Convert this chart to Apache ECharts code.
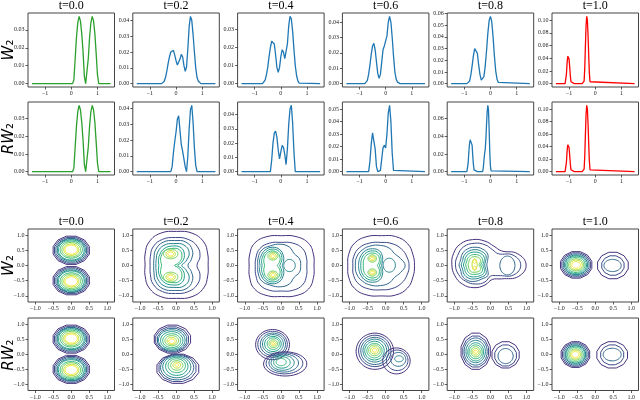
<!doctype html>
<html>
<head>
<meta charset="UTF-8">
<title></title>
<script src="https://cdn.jsdelivr.net/npm/echarts@6.0.0/dist/echarts.min.js"></script>
<style>
html,body{margin:0;padding:0;background:#fff;}
#chart{width:640px;height:400px;}
</style>
</head>
<body>
<div id="chart"></div>
<script>
// column titles and row names
var times = ['t=0.0', 't=0.2', 't=0.4', 't=0.6', 't=0.8', 't=1.0'];
var rowNames = ['W', 'RW', 'W', 'RW'];

// 1D densities: first x, step, values (zero elsewhere on [-1.5, 1.5])
var curveT0 = {x0: 0.05, dx: 0.05, y: [0, 0.002, 0.014, 0.026, 0.034, 0.0375, 0.035, 0.028, 0.018, 0.004, 0, 0.001, 0.014, 0.026, 0.034, 0.0375, 0.035, 0.028, 0.017, 0.005, 0]};
var curveW2 = {x0: -0.55, dx: 0.05, y: [0, 0.0005, 0.0015, 0.004, 0.008, 0.013, 0.017, 0.020, 0.0212, 0.021, 0.018, 0.0145, 0.0118, 0.0115, 0.0155, 0.0185, 0.017, 0.0115, 0.0078, 0.0105, 0.022, 0.036, 0.0425, 0.040, 0.031, 0.020, 0.010, 0.004, 0.0015, 0.0005, 0]};
var curveW4 = {x0: -0.7, dx: 0.05, y: [0, 0.0005, 0.002, 0.005, 0.009, 0.015, 0.020, 0.0235, 0.0244, 0.022, 0.016, 0.009, 0.0062, 0.009, 0.015, 0.0188, 0.0175, 0.0138, 0.0135, 0.022, 0.032, 0.0373, 0.036, 0.029, 0.019, 0.010, 0.0045, 0.0015, 0.0003, 0]};
var curveW6 = {x0: -0.8, dx: 0.05, y: [0, 0.0005, 0.002, 0.006, 0.012, 0.019, 0.0245, 0.0262, 0.022, 0.014, 0.0065, 0.0035, 0.006, 0.014, 0.022, 0.0245, 0.025, 0.031, 0.040, 0.0437, 0.040, 0.030, 0.018, 0.008, 0.003, 0.001, 0.0002, 0]};
var curveW8 = {x0: -0.9, dx: 0.05, y: [0, 0.0005, 0.002, 0.007, 0.015, 0.024, 0.030, 0.031, 0.026, 0.016, 0.008, 0.003, 0.0025, 0.006, 0.015, 0.028, 0.043, 0.054, 0.0576, 0.053, 0.040, 0.024, 0.011, 0.004, 0.001, 0]};
var curveT1 = {x0: -1.15, dx: 0.025, y: [0, 0.003, 0.015, 0.032, 0.043, 0.045, 0.039, 0.026, 0.012, 0.003, 0,
  0, 0, 0, 0, 0, 0, 0, 0, 0, 0, 0, 0, 0, 0, 0, 0, 0,
  0, 0.004, 0.025, 0.060, 0.092, 0.106, 0.100, 0.077, 0.045, 0.017, 0.003, 0]};
var curveR2 = {x0: -0.2, dx: 0.05, y: [0, 0.003, 0.012, 0.019, 0.025, 0.033, 0.0352, 0.026, 0.017, 0.013, 0.008, 0.003, 0, 0.010, 0.027, 0.039, 0.0418, 0.031, 0.015, 0.004, 0]};
var curveR4 = {x0: -0.4, dx: 0.05, y: [0, 0.008, 0.020, 0.027, 0.0285, 0.024, 0.015, 0.009, 0.014, 0.0185, 0.017, 0.012, 0.005, 0.016, 0.033, 0.044, 0.0465, 0.034, 0.014, 0]};
var curveR6 = {x0: -0.65, dx: 0.05, y: [0, 0.008, 0.022, 0.031, 0.030, 0.018, 0.004, 0, 0, 0.001, 0.010, 0.019, 0.021, 0.019, 0.030, 0.047, 0.053, 0.040, 0.015, 0.001, 0]};
var curveR8 = {x0: -0.9, dx: 0.025, y: [0, 0.002, 0.010, 0.022, 0.031, 0.036, 0.0375, 0.037, 0.030, 0.018, 0.008, 0.002, 0,
  0, 0, 0, 0, 0, 0, 0, 0, 0, 0, 0,
  0, 0.004, 0.012, 0.020, 0.025, 0.036, 0.053, 0.068, 0.075, 0.070, 0.048, 0.022, 0.006, 0.001, 0]};

var curvesW = [curveT0, curveW2, curveW4, curveW6, curveW8, curveT1];
var curvesR = [curveT0, curveR2, curveR4, curveR6, curveR8, curveT1];

// y tick labels of the density panels
var yTicksW = [[0, 0.01, 0.02, 0.03], [0, 0.01, 0.02, 0.03, 0.04], [0, 0.01, 0.02, 0.03], [0, 0.01, 0.02, 0.03, 0.04], [0, 0.01, 0.02, 0.03, 0.04, 0.05, 0.06], [0, 0.02, 0.04, 0.06, 0.08, 0.10]];
var yTicksR = [[0, 0.01, 0.02, 0.03], [0, 0.01, 0.02, 0.03, 0.04], [0, 0.01, 0.02, 0.03, 0.04], [0, 0.01, 0.02, 0.03, 0.04, 0.05], [0, 0.02, 0.04, 0.06], [0, 0.02, 0.04, 0.06, 0.08, 0.10]];
var xTicksLine = [-1, 0, 1];
var xyTicksCont = [-1, -0.5, 0, 0.5, 1];

// contour rings: [level, cx, cy, rx, ry, facets] or [level, cx, cy, [radii every 22.5deg]]
var contT0 = [
  [0, 0, 0.5, 0.52, 0.48, 12], [1, 0, 0.5, 0.48, 0.44, 12], [2, 0, 0.5, 0.44, 0.40, 12], [3, 0, 0.51, 0.40, 0.37, 12], [4, 0, 0.51, 0.36, 0.33, 0],
  [5, 0, 0.52, 0.31, 0.28, 0], [6, 0, 0.52, 0.26, 0.24, 0], [7, 0, 0.52, 0.21, 0.19, 0], [8, 0, 0.52, 0.17, 0.15, 0],
  [0, 0, -0.5, 0.52, 0.48, 12], [1, 0, -0.5, 0.48, 0.44, 12], [2, 0, -0.5, 0.44, 0.40, 12], [3, 0, -0.51, 0.40, 0.37, 12], [4, 0, -0.51, 0.36, 0.33, 0],
  [5, 0, -0.52, 0.31, 0.28, 0], [6, 0, -0.52, 0.26, 0.24, 0], [7, 0, -0.52, 0.21, 0.19, 0], [8, 0, -0.52, 0.17, 0.15, 0]
];
var contW2 = [
  [0, 0.01, 0.02, [0.88, 0.94, 1.07, 1.13, 1.1, 1.13, 1.07, 0.94, 0.87, 0.94, 1.07, 1.13, 1.1, 1.13, 1.07, 0.94]],
  [1, -0.02, 0, [0.6, 0.74, 0.87, 0.93, 0.92, 0.93, 0.87, 0.75, 0.7, 0.75, 0.87, 0.93, 0.92, 0.93, 0.87, 0.74]],
  [2, -0.04, 0, [0.37, 0.5, 0.7, 0.83, 0.82, 0.83, 0.74, 0.62, 0.58, 0.62, 0.74, 0.83, 0.82, 0.83, 0.7, 0.5]],
  [3, -0.06, 0, [0.22, 0.36, 0.6, 0.73, 0.72, 0.72, 0.63, 0.53, 0.5, 0.53, 0.63, 0.72, 0.72, 0.73, 0.6, 0.36]],
  [4, -0.1, 0, [0.15, 0.28, 0.47, 0.63, 0.64, 0.6, 0.5, 0.42, 0.38, 0.42, 0.5, 0.6, 0.64, 0.63, 0.47, 0.28]],
  [5, -0.12, 0, [0.08, 0.2, 0.4, 0.56, 0.56, 0.52, 0.42, 0.33, 0.28, 0.33, 0.42, 0.52, 0.56, 0.56, 0.4, 0.2]],
  [6, -0.15, 0.38, 0.2, 0.16, 0], [7, -0.15, 0.38, 0.13, 0.11, 0], [8, -0.15, 0.38, 0.08, 0.065, 0],
  [6, -0.15, -0.38, 0.2, 0.16, 0], [7, -0.15, -0.38, 0.13, 0.11, 0], [8, -0.15, -0.38, 0.08, 0.065, 0]
];
var contW4 = [
  [0, 0.02, -0.02, [0.9, 0.96, 1.06, 1.05, 1.0, 1.05, 1.06, 0.96, 0.9, 0.96, 1.06, 1.05, 1.0, 1.05, 1.06, 0.96]],
  [1, 0.01, -0.04, [0.71, 0.76, 0.84, 0.84, 0.8, 0.84, 0.84, 0.76, 0.72, 0.76, 0.84, 0.84, 0.8, 0.84, 0.84, 0.76]],
  [2, -0.02, 0, [0.57, 0.58, 0.55, 0.66, 0.7, 0.7, 0.72, 0.66, 0.62, 0.66, 0.72, 0.7, 0.7, 0.66, 0.55, 0.58]],
  [3, 0.24, 0, 0.16, 0.2, 0],
  [3, -0.24, 0, [0.28, 0.34, 0.44, 0.56, 0.6, 0.54, 0.44, 0.38, 0.34, 0.38, 0.44, 0.54, 0.6, 0.56, 0.44, 0.34]],
  [4, -0.24, 0, [0.21, 0.27, 0.38, 0.5, 0.54, 0.48, 0.38, 0.32, 0.28, 0.32, 0.38, 0.48, 0.54, 0.5, 0.38, 0.27]],
  [5, -0.24, 0, [0.14, 0.2, 0.31, 0.43, 0.48, 0.42, 0.32, 0.25, 0.21, 0.25, 0.32, 0.42, 0.48, 0.43, 0.31, 0.2]],
  [6, -0.22, 0.31, 0.14, 0.13, 0], [7, -0.22, 0.31, 0.095, 0.09, 0], [8, -0.22, 0.31, 0.05, 0.05, 0],
  [6, -0.22, -0.31, 0.14, 0.13, 0], [7, -0.22, -0.31, 0.095, 0.09, 0], [8, -0.22, -0.31, 0.05, 0.05, 0]
];
var contW6 = [
  [0, -0.12, -0.01, [0.92, 0.95, 1.03, 1.04, 0.99, 1.04, 1.05, 0.98, 0.93, 0.98, 1.05, 1.04, 0.99, 1.04, 1.03, 0.95]],
  [1, -0.13, -0.02, [0.78, 0.78, 0.8, 0.8, 0.78, 0.82, 0.85, 0.82, 0.78, 0.82, 0.85, 0.82, 0.78, 0.8, 0.8, 0.78]],
  [2, -0.14, 0, [0.68, 0.6, 0.55, 0.62, 0.66, 0.7, 0.72, 0.72, 0.7, 0.72, 0.72, 0.7, 0.66, 0.62, 0.55, 0.6]],
  [3, 0.1, 0.01, 0.17, 0.23, 0],
  [3, -0.37, 0, [0.26, 0.3, 0.4, 0.52, 0.55, 0.52, 0.45, 0.4, 0.38, 0.4, 0.45, 0.52, 0.55, 0.52, 0.4, 0.3]],
  [4, -0.37, 0, [0.2, 0.25, 0.34, 0.45, 0.48, 0.45, 0.39, 0.34, 0.32, 0.34, 0.39, 0.45, 0.48, 0.45, 0.34, 0.25]],
  [5, -0.37, 0, [0.14, 0.19, 0.28, 0.38, 0.41, 0.38, 0.32, 0.27, 0.25, 0.27, 0.32, 0.38, 0.41, 0.38, 0.28, 0.19]],
  [6, -0.37, 0.23, 0.12, 0.12, 0], [7, -0.37, 0.23, 0.085, 0.08, 0], [8, -0.37, 0.23, 0.05, 0.045, 0],
  [6, -0.37, -0.23, 0.12, 0.12, 0], [7, -0.37, -0.23, 0.085, 0.08, 0], [8, -0.37, -0.23, 0.05, 0.045, 0]
];
var contW8 = [
  [0, -0.15, 0.02, [1.14, 0.97, 0.65, 0.66, 0.78, 0.9, 0.97, 0.95, 0.92, 0.91, 0.89, 0.81, 0.66, 0.52, 0.65, 1.0]],
  [1, -0.15, 0.02, [0.99, 0.84, 0.52, 0.54, 0.66, 0.77, 0.84, 0.82, 0.82, 0.8, 0.76, 0.68, 0.56, 0.4, 0.5, 0.86]],
  [2, -0.43, 0.02, [0.33, 0.38, 0.5, 0.56, 0.58, 0.56, 0.5, 0.43, 0.44, 0.43, 0.5, 0.55, 0.54, 0.5, 0.5, 0.38]],
  [3, -0.43, 0.02, [0.27, 0.32, 0.43, 0.48, 0.5, 0.48, 0.43, 0.37, 0.38, 0.37, 0.43, 0.47, 0.46, 0.44, 0.43, 0.32]],
  [4, -0.43, 0.02, [0.22, 0.27, 0.36, 0.41, 0.42, 0.41, 0.36, 0.31, 0.32, 0.31, 0.36, 0.4, 0.39, 0.38, 0.36, 0.27]],
  [5, -0.43, 0.02, [0.16, 0.21, 0.29, 0.33, 0.34, 0.33, 0.29, 0.25, 0.26, 0.25, 0.29, 0.32, 0.31, 0.31, 0.29, 0.21]],
  [6, -0.43, 0.02, [0.11, 0.15, 0.22, 0.26, 0.27, 0.26, 0.22, 0.19, 0.19, 0.19, 0.22, 0.25, 0.24, 0.24, 0.22, 0.15]],
  [7, -0.44, 0.03, 0.07, 0.19, 0],
  [8, -0.44, 0.13, 0.04, 0.06, 0], [8, -0.44, -0.08, 0.04, 0.06, 0],
  [2, 0.47, 0, 0.21, 0.31, 0]
];
var contW10 = [
  [0, -0.53, 0.02, 0.45, 0.45, 12], [1, -0.53, 0.02, 0.41, 0.41, 12], [2, -0.53, 0.02, 0.37, 0.37, 12], [3, -0.53, 0.02, 0.33, 0.33, 12], [4, -0.53, 0.02, 0.29, 0.29, 0],
  [5, -0.53, 0.02, 0.25, 0.25, 0], [6, -0.53, 0.02, 0.21, 0.2, 0], [7, -0.53, 0.02, 0.17, 0.16, 0], [8, -0.53, 0.02, 0.12, 0.11, 0],
  [0, 0.49, 0, 0.44, 0.45, 12], [1, 0.49, 0, 0.32, 0.33, 12], [2, 0.48, 0, 0.24, 0.2, 0]
];
var contR2 = [
  [0, -0.1, 0.5, 0.52, 0.48, 12], [1, -0.11, 0.49, 0.47, 0.43, 12], [2, -0.11, 0.48, 0.42, 0.39, 12], [3, -0.12, 0.47, 0.37, 0.34, 0], [4, -0.12, 0.46, 0.31, 0.29, 0],
  [5, -0.12, 0.45, 0.25, 0.23, 0], [6, -0.12, 0.45, 0.19, 0.17, 0], [7, -0.12, 0.44, 0.13, 0.12, 0], [8, -0.12, 0.43, 0.08, 0.075, 0],
  [0, 0.05, -0.48, 0.6, 0.5, 12], [1, 0.04, -0.46, 0.53, 0.46, 12], [2, 0.03, -0.44, 0.46, 0.41, 0], [3, 0.02, -0.42, 0.39, 0.36, 0], [4, 0.02, -0.4, 0.31, 0.3, 0],
  [5, 0.02, -0.38, 0.24, 0.23, 0], [6, 0.02, -0.37, 0.17, 0.16, 0], [7, 0.02, -0.36, 0.11, 0.1, 0], [8, 0.02, -0.36, 0.05, 0.05, 0]
];
var contR4 = [
  [0, -0.23, 0.32, 0.47, 0.5, 0], [1, -0.23, 0.33, 0.41, 0.43, 0], [2, -0.22, 0.33, 0.35, 0.37, 0], [3, -0.22, 0.34, 0.29, 0.31, 0], [4, -0.22, 0.34, 0.23, 0.25, 0],
  [5, -0.21, 0.35, 0.17, 0.19, 0], [6, -0.21, 0.35, 0.12, 0.13, 0], [7, -0.21, 0.35, 0.08, 0.08, 0], [8, -0.21, 0.35, 0.035, 0.035, 0],
  [0, 0.12, -0.32, 0.6, 0.4, 0], [1, 0.1, -0.3, 0.51, 0.35, 0], [2, 0.08, -0.29, 0.41, 0.3, 0], [3, 0.05, -0.28, 0.32, 0.25, 0], [4, 0.03, -0.27, 0.23, 0.19, 0], [5, 0.01, -0.26, 0.14, 0.12, 0]
];
var contR6 = [
  [0, -0.3, 0.1, 0.52, 0.6, 0], [1, -0.3, 0.11, 0.45, 0.52, 0], [2, -0.3, 0.11, 0.39, 0.45, 0], [3, -0.3, 0.12, 0.33, 0.38, 0], [4, -0.31, 0.12, 0.27, 0.31, 0],
  [5, -0.31, 0.12, 0.21, 0.24, 0], [6, -0.31, 0.13, 0.16, 0.18, 0], [7, -0.31, 0.13, 0.11, 0.12, 0], [8, -0.31, 0.13, 0.06, 0.06, 0],
  [0, 0.3, -0.22, 0.38, 0.43, 0], [1, 0.32, -0.2, 0.3, 0.34, 0], [2, 0.35, -0.17, 0.21, 0.23, 0], [3, 0.37, -0.15, 0.12, 0.1, 0]
];
var contR8 = [
  [0, -0.41, 0.1, 0.42, 0.62, 12], [1, -0.41, 0.09, 0.37, 0.53, 12], [2, -0.41, 0.09, 0.32, 0.45, 0], [3, -0.41, 0.09, 0.27, 0.37, 0], [4, -0.41, 0.08, 0.22, 0.3, 0],
  [5, -0.41, 0.08, 0.18, 0.23, 0], [6, -0.41, 0.08, 0.13, 0.17, 0], [7, -0.41, 0.08, 0.09, 0.11, 0], [8, -0.41, 0.08, 0.05, 0.05, 0],
  [0, 0.42, -0.02, 0.39, 0.45, 12], [1, 0.42, -0.04, 0.31, 0.36, 12], [2, 0.42, -0.06, 0.21, 0.25, 0]
];
var contR10 = [
  [0, -0.55, -0.01, 0.41, 0.44, 12], [1, -0.55, -0.01, 0.37, 0.4, 12], [2, -0.55, -0.01, 0.33, 0.36, 12], [3, -0.55, -0.01, 0.29, 0.32, 12], [4, -0.55, -0.01, 0.26, 0.28, 0],
  [5, -0.55, -0.01, 0.22, 0.24, 0], [6, -0.55, -0.01, 0.18, 0.19, 0], [7, -0.55, -0.01, 0.14, 0.15, 0], [8, -0.55, -0.01, 0.1, 0.1, 0],
  [0, 0.47, -0.02, 0.44, 0.45, 12], [1, 0.47, -0.02, 0.33, 0.34, 12], [2, 0.47, -0.01, 0.25, 0.21, 0]
];
var contsW = [contT0, contW2, contW4, contW6, contW8, contW10];
var contsR = [contT0, contR2, contR4, contR6, contR8, contR10];

// styles
var lineColors = ['#2ca02c', '#1f77b4', '#1f77b4', '#1f77b4', '#1f77b4', '#ff0000'];
var levelColors = ['#46327e', '#3e4a89', '#31688e', '#26828e', '#1f9e89', '#35b779', '#6ece58', '#b5de2b', '#fde725'];
var colLeft = [28, 132.8, 237.6, 342.4, 447.2, 552];
var panelW = 86.5;
var rowTop = [13, 102, 229, 318];
var rowH = [74, 73, 73, 74];
var tickFont = 'Liberation Serif';

function minus(s) { return String(s).replace('-', '\u2212'); }

function curvePoints(c) {
	var pts = [[-1.5, 0]];
	for (var i = 0; i < c.y.length; i++) {
		pts.push([+(c.x0 + i * c.dx).toFixed(3), c.y[i]]);
	}
	pts.push([1.5, 0]);
	return pts;
}

function ringPoints(ring) {
	var cx = ring[1], cy = ring[2], pts = [], k, a;
	if (Array.isArray(ring[3])) {
		var rs = ring[3];
		for (k = 0; k < rs.length; k++) {
			a = 2 * Math.PI * k / rs.length;
			pts.push([cx + rs[k] * Math.cos(a), cy + rs[k] * Math.sin(a)]);
		}
	} else {
		var n = ring[5] || 48;
		var off = ring[5] ? Math.PI / n : 0;
		for (k = 0; k < n; k++) {
			a = off + 2 * Math.PI * k / n;
			pts.push([cx + ring[3] * Math.cos(a), cy + ring[4] * Math.sin(a)]);
		}
	}
	return pts;
}

function axisBase(min, max, ticks, fmt) {
	return {
		type: 'value', min: min, max: max,
		axisLine: {show: false, onZero: false},
		splitLine: {show: false},
		axisTick: {show: true, length: 2.5, customValues: ticks, lineStyle: {color: '#333', width: 0.8}},
		axisLabel: {customValues: ticks, formatter: fmt, fontSize: 6, fontFamily: tickFont, color: '#222', margin: 3.5}
	};
}

var grid = [], xAxis = [], yAxis = [], series = [], graphic = [];

for (var r = 0; r < 4; r++) {
	for (var c = 0; c < 6; c++) {
		var idx = r * 6 + c;
		grid.push({left: colLeft[c], top: rowTop[r], width: panelW, height: rowH[r], show: true, borderColor: '#444', borderWidth: 1, backgroundColor: '#fff'});
		if (r < 2) {
			var cv = (r === 0 ? curvesW : curvesR)[c];
			var yt = (r === 0 ? yTicksW : yTicksR)[c];
			var m = Math.max.apply(null, cv.y);
			xAxis.push(axisBase(-1.65, 1.65, xTicksLine, function (v) { return minus(Math.round(v)); }));
			xAxis[idx].gridIndex = idx;
			yAxis.push(axisBase(-0.05 * m, 1.05 * m, yt, function (v) { return v.toFixed(2); }));
			yAxis[idx].gridIndex = idx;
			series.push({
				type: 'line', xAxisIndex: idx, yAxisIndex: idx,
				data: curvePoints(cv), showSymbol: false, symbol: 'none', silent: true,
				lineStyle: {color: lineColors[c], width: 1.3}
			});
		} else {
			var rings = (r === 2 ? contsW : contsR)[c];
			xAxis.push(axisBase(-1.2, 1.2, xyTicksCont, function (v) { return minus(v.toFixed(1)); }));
			xAxis[idx].gridIndex = idx;
			yAxis.push(axisBase(-1.2, 1.2, xyTicksCont, function (v) { return minus(v.toFixed(1)); }));
			yAxis[idx].gridIndex = idx;
			series.push({
				type: 'custom', xAxisIndex: idx, yAxisIndex: idx, silent: true,
				data: rings.map(function () { return [0, 0]; }),
				renderItem: (function (rs) {
					return function (params, api) {
						var ring = rs[params.dataIndex];
						var pts = ringPoints(ring).map(function (p) { return api.coord(p); });
						return {
							type: 'polygon',
							shape: {points: pts, smooth: Array.isArray(ring[3]) ? 0.45 : 0},
							style: {fill: 'none', stroke: levelColors[ring[0]], lineWidth: 1}
						};
					};
				})(rings)
			});
		}
	}
}

// column titles
[0, 2].forEach(function (r) {
	times.forEach(function (t, c) {
		graphic.push({
			type: 'text', x: colLeft[c] + panelW / 2, y: rowTop[r] - 7, silent: true,
			style: {text: t, font: '12px "Liberation Serif"', fill: '#000', textAlign: 'center', textVerticalAlign: 'middle'}
		});
	});
});
// row labels
rowNames.forEach(function (name, r) {
	graphic.push({
		type: 'text', x: 9, y: rowTop[r] + rowH[r] / 2, rotation: Math.PI / 2, silent: true,
		style: {
			text: '{i|' + name + '}{s|\u2082}',
			rich: {
				i: {fontFamily: 'DejaVu Sans', fontStyle: 'italic', fontSize: 15, fill: '#000'},
				s: {fontFamily: 'DejaVu Sans', fontSize: 15, fill: '#000'}
			},
			textAlign: 'center', textVerticalAlign: 'middle'
		}
	});
});

var chart = echarts.init(document.getElementById('chart'));
chart.setOption({
	animation: false,
	backgroundColor: '#fff',
	grid: grid,
	xAxis: xAxis,
	yAxis: yAxis,
	series: series,
	graphic: graphic
});
</script>
</body>
</html>
